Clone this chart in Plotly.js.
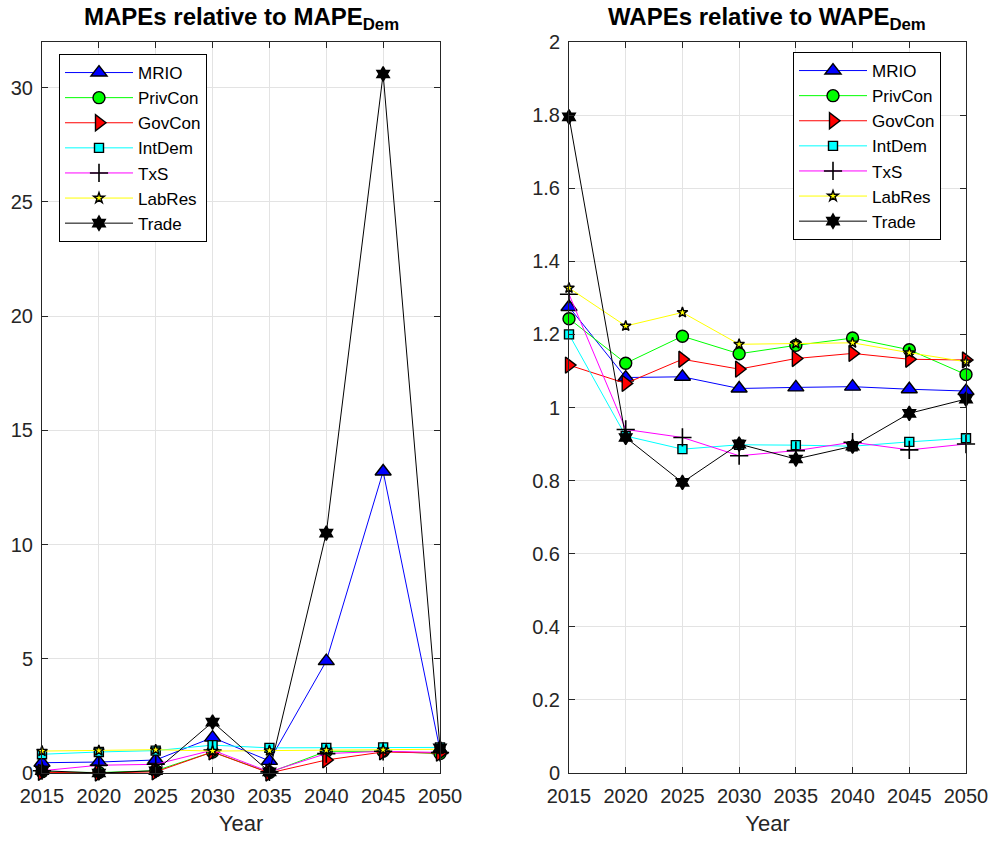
<!DOCTYPE html>
<html>
<head>
<meta charset="utf-8">
<script src="https://cdn.plot.ly/plotly-3.0.1.min.js"></script>
<style>html,body{margin:0;padding:0;background:#fff;}#chart{width:993px;height:841px;}</style>
</head>
<body>
<div id="chart"></div>
<script>
const years = [2015, 2020, 2025, 2030, 2035, 2040, 2045, 2050];
const seriesNames = ["MRIO", "PrivCon", "GovCon", "IntDem", "TxS", "LabRes", "Trade"];

// Left panel: MAPEs relative to MAPE_Dem
const mapeMRIO    = [0.45, 0.48, 0.57, 1.55, 0.53, 4.9, 13.2, 1.0];
const mapePrivCon = [0.05, 0.02, 0.10, 0.92, 0.02, 0.95, 0.95, 0.85];
const mapeGovCon  = [0.03, 0.00, 0.05, 0.92, 0.00, 0.57, 0.92, 0.87];
const mapeIntDem  = [0.82, 0.92, 0.98, 1.22, 1.10, 1.10, 1.12, 1.12];
const mapeTxS     = [0.10, 0.34, 0.38, 1.00, 0.05, 0.85, 0.95, 0.90];
const mapeLabRes  = [0.96, 0.98, 1.02, 0.96, 0.98, 1.00, 1.02, 1.04];
const mapeTrade   = [0.10, 0.00, 0.10, 2.23, 0.05, 10.5, 30.6, 1.1];

// Right panel: WAPEs relative to WAPE_Dem
const wapeMRIO    = [1.275, 1.082, 1.084, 1.052, 1.055, 1.057, 1.050, 1.045];
const wapePrivCon = [1.243, 1.121, 1.195, 1.147, 1.170, 1.190, 1.158, 1.090];
const wapeGovCon  = [1.116, 1.066, 1.132, 1.105, 1.134, 1.148, 1.132, 1.130];
const wapeIntDem  = [1.200, 0.922, 0.886, 0.898, 0.897, 0.894, 0.906, 0.916];
const wapeTxS     = [1.310, 0.940, 0.918, 0.868, 0.882, 0.905, 0.884, 0.900];
const wapeLabRes  = [1.327, 1.223, 1.260, 1.173, 1.175, 1.177, 1.150, 1.125];
const wapeTrade   = [1.795, 0.918, 0.795, 0.900, 0.859, 0.894, 0.984, 1.023];

const mapeSeries = [mapeMRIO, mapePrivCon, mapeGovCon, mapeIntDem, mapeTxS, mapeLabRes, mapeTrade];
const wapeSeries = [wapeMRIO, wapePrivCon, wapeGovCon, wapeIntDem, wapeTxS, wapeLabRes, wapeTrade];

const styles = [
  {line: '#0000ff', symbol: 'triangle-up', fill: '#0000ff', size: 14},
  {line: '#00ff00', symbol: 'circle', fill: '#00ff00', size: 12},
  {line: '#ff0000', symbol: 'triangle-right', fill: '#ff0000', size: 14},
  {line: '#00ffff', symbol: 'square', fill: '#00ffff', size: 9},
  {line: '#ff00ff', symbol: 'cross-thin', fill: '#000000', size: 13},
  {line: '#ffff00', symbol: 'star', fill: '#ffff00', size: 8},
  {line: '#000000', symbol: 'hexagram', fill: '#000000', size: 11}
];

function makeTrace(name, y, st, xa, ya, leg) {
  return {
    x: years, y: y, name: name, type: 'scatter', mode: 'lines+markers',
    xaxis: xa, yaxis: ya, legend: leg,
    line: {color: st.line, width: 1},
    marker: {symbol: st.symbol, color: st.fill, size: st.size,
             line: {color: '#000000', width: st.symbol === 'cross-thin' ? 1.6 : 1.4}},
    cliponaxis: false
  };
}

const traces = [];
seriesNames.forEach((n, i) => traces.push(makeTrace(n, mapeSeries[i], styles[i], 'x', 'y', 'legend')));
seriesNames.forEach((n, i) => traces.push(makeTrace(n, wapeSeries[i], styles[i], 'x2', 'y2', 'legend2')));

const FONT = 'Liberation Sans, Arial, Helvetica, sans-serif';
const axisCommon = {
  showline: true, linecolor: '#262626', linewidth: 1, mirror: 'ticks',
  ticks: 'inside', ticklen: 6, tickcolor: '#262626', tickwidth: 1,
  showgrid: true, gridcolor: '#e3e3e3', gridwidth: 1, zeroline: false,
  tickfont: {family: FONT, size: 20, color: '#262626'}
};
const xTitle = {text: 'Year', font: {family: FONT, size: 22, color: '#262626'}, standoff: 9};
const yDom = [1 - 773/841, 1 - 42/841];

const legendCommon = {
  bgcolor: '#ffffff', bordercolor: '#000000', borderwidth: 1,
  font: {family: FONT, size: 17, color: '#000000'},
  xanchor: 'left', yanchor: 'top', itemwidth: 68, tracegroupgap: 0
};

const layout = {
  width: 993, height: 841,
  margin: {l: 0, r: 0, t: 0, b: 0},
  paper_bgcolor: '#ffffff', plot_bgcolor: '#ffffff',
  showlegend: true,
  xaxis: Object.assign({}, axisCommon, {
    domain: [42/993, 440/993], range: [2015, 2050], tickmode: 'linear', tick0: 2015, dtick: 5,
    anchor: 'y', ticklabelstandoff: 5, title: xTitle
  }),
  yaxis: Object.assign({}, axisCommon, {
    domain: yDom, range: [0, 32], tickmode: 'linear', tick0: 0, dtick: 5, anchor: 'x',
    ticklabelstandoff: 4
  }),
  xaxis2: Object.assign({}, axisCommon, {
    domain: [569/993, 966/993], range: [2015, 2050], tickmode: 'linear', tick0: 2015, dtick: 5,
    anchor: 'y2', ticklabelstandoff: 5, title: xTitle
  }),
  yaxis2: Object.assign({}, axisCommon, {
    domain: yDom, range: [0, 2], tickmode: 'linear', tick0: 0, dtick: 0.2, anchor: 'x2',
    ticklabelstandoff: 4
  }),
  legend: Object.assign({}, legendCommon, {x: 59/993, y: 1 - 54/841}),
  legend2: Object.assign({}, legendCommon, {x: 793/993, y: 1 - 52/841}),
  annotations: [
    {text: '<b>MAPEs relative to MAPE<sub>Dem</sub></b>', xref: 'paper', yref: 'paper',
     x: 241/993, y: 1 - 1/841, xanchor: 'center', yanchor: 'top', showarrow: false,
     font: {family: FONT, size: 24, color: '#000000'}},
    {text: '<b>WAPEs relative to WAPE<sub>Dem</sub></b>', xref: 'paper', yref: 'paper',
     x: 767/993, y: 1 - 1/841, xanchor: 'center', yanchor: 'top', showarrow: false,
     font: {family: FONT, size: 24, color: '#000000'}}
  ]
};

Plotly.newPlot('chart', traces, layout, {displayModeBar: false, staticPlot: true});
</script>
</body>
</html>
